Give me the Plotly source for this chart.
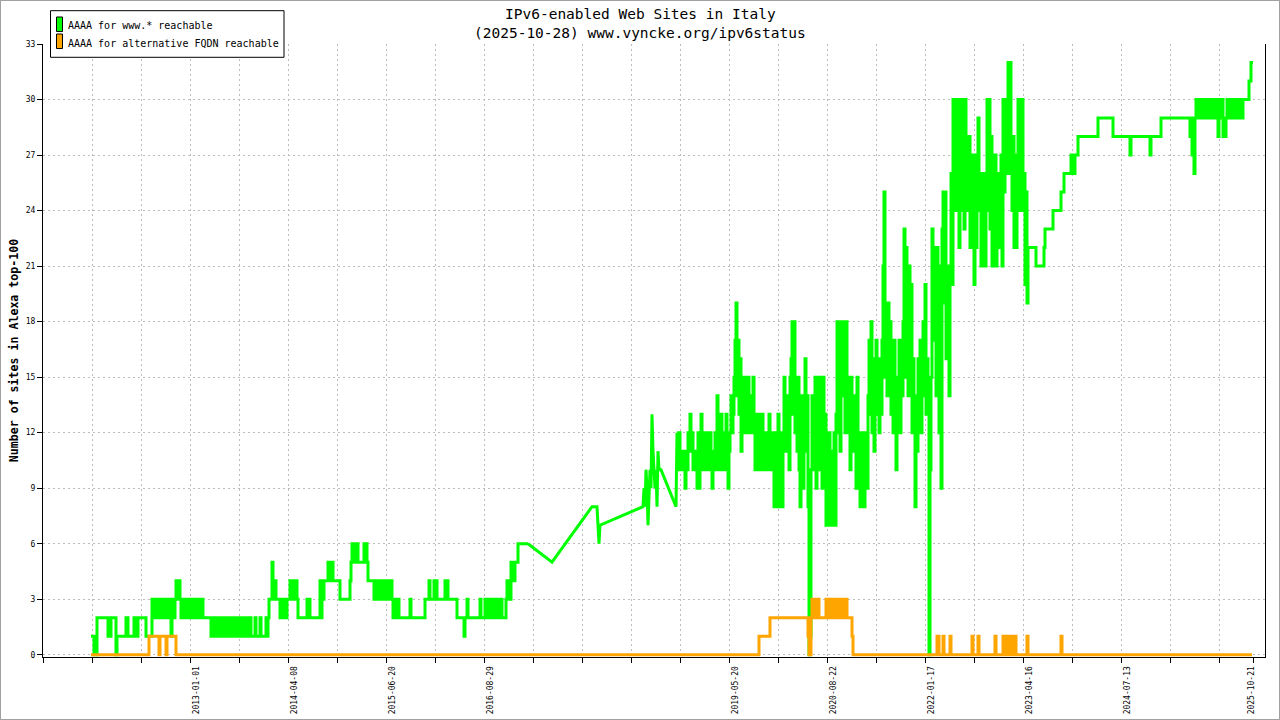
import plotly.graph_objects as go

# ---------------- data (x = sample index along the time axis, y = sites) ----------------
GREEN_2012_2014 = [
    (48, 1), (50, 1), (51, 0), (53, 0), (54, 2), (64, 2), (65, 1), (67, 1), (68, 2), (72, 2), (73, 0), (74, 1),
    (82, 1), (83, 2), (84, 2), (85, 1), (90, 1), (91, 2), (93, 2), (94, 1), (95, 2), (102, 2), (103, 1), (108, 1),
    (109, 3), (110, 2), (111, 3), (112, 2), (113, 3), (114, 2), (115, 3), (116, 2), (117, 3), (118, 3), (119, 2),
    (120, 3), (121, 2), (122, 3), (123, 2), (124, 3), (125, 2), (126, 3), (127, 2), (128, 1), (129, 2), (130, 3),
    (131, 2), (132, 3), (133, 4), (134, 3), (135, 4), (136, 4), (137, 3), (138, 2), (139, 3), (140, 2), (141, 3),
    (142, 2), (143, 3), (144, 2), (145, 3), (146, 2), (147, 3), (148, 2), (149, 3), (150, 2), (151, 3), (152, 2),
    (153, 3), (154, 2), (155, 3), (156, 2), (157, 3), (158, 2), (159, 3), (160, 2), (167, 2),
    (168, 1), (169, 2), (170, 1), (171, 2), (172, 1), (173, 2), (174, 1), (175, 2), (176, 1), (177, 2), (178, 1),
    (179, 2), (180, 1), (181, 2), (182, 1), (183, 2), (184, 1), (185, 2), (186, 1), (187, 2), (188, 1), (189, 2),
    (190, 1), (191, 2), (192, 1), (193, 2), (194, 1), (195, 2), (196, 1), (197, 2), (198, 1), (199, 2), (200, 1),
    (201, 2), (202, 1), (203, 2), (204, 1), (206, 1), (207, 2), (208, 1), (211, 1), (212, 2), (213, 1), (216, 1),
    (217, 2), (218, 1), (222, 1), (223, 2), (224, 1),
]

GREEN_2014_2016 = [
    (225, 2), (226, 3), (228, 3), (229, 5), (230, 4), (231, 3), (232, 4), (233, 3), (236, 3), (237, 2), (238, 3),
    (239, 2), (240, 3), (241, 2), (242, 3), (243, 2), (244, 3), (246, 3), (247, 4), (248, 3), (249, 4), (250, 3),
    (251, 4), (252, 3), (253, 4), (254, 3), (255, 2), (263, 2), (264, 3), (266, 3), (267, 2), (276, 2), (277, 4),
    (278, 2), (279, 4), (280, 3), (281, 4), (284, 4), (285, 5), (286, 4), (287, 5), (288, 4), (289, 5), (290, 4),
    (296, 4), (297, 3), (306, 3), (307, 4), (308, 5), (309, 6), (310, 5), (311, 6), (312, 5), (313, 6), (314, 6),
    (315, 5), (320, 5), (321, 6), (322, 5), (323, 6), (324, 5), (325, 4), (330, 4), (331, 3), (332, 4), (333, 3),
    (334, 4), (335, 3), (336, 4), (337, 3), (338, 4), (339, 3), (340, 4), (341, 3), (342, 4), (343, 3), (344, 4),
    (345, 3), (346, 4), (347, 3), (348, 4), (349, 3), (350, 2), (351, 3), (352, 2), (353, 3), (354, 2), (355, 3),
    (356, 2), (357, 2), (366, 2), (367, 3), (368, 2), (380, 2), (382, 3), (385, 3), (386, 4), (387, 3), (390, 3),
    (391, 4), (392, 3), (393, 4), (394, 3), (401, 3), (402, 4), (403, 3), (404, 4), (405, 3), (412, 3), (414, 2),
    (420, 2), (421, 1), (422, 2), (424, 3), (425, 2), (436, 2), (437, 3), (438, 2), (441, 2), (442, 3), (443, 2),
    (445, 2), (446, 3), (447, 2), (449, 2), (450, 3), (451, 2), (453, 2), (454, 3), (455, 2), (457, 2), (458, 3),
    (459, 2), (462, 2), (463, 3), (464, 4), (465, 3), (466, 4), (467, 3), (468, 5), (469, 4), (470, 5), (471, 4),
    (472, 5), (474, 5), (475, 6), (485, 6),
]

GREEN_2016_2019 = [
    (485, 6), (509, 5), (549, 8), (554, 8), (555, 7), (556, 6), (557, 7), (600, 8), (601, 9), (602, 8), (603, 10),
    (604, 9), (605, 7), (606, 9), (607, 10), (608, 9), (609, 13), (610, 11), (611, 10), (612, 9), (613, 10),
    (614, 8), (615, 11), (616, 10), (618, 10), (633, 8), (634, 12),
]

GREEN_2019_2021 = [
    (634, 12), (635, 10), (636, 12), (637, 11), (638, 10), (639, 11), (640, 10), (641, 11), (642, 9), (643, 11),
    (644, 10), (645, 12), (646, 11), (647, 13), (648, 11), (649, 12), (650, 10), (651, 11), (652, 10), (653, 11),
    (654, 9), (655, 12), (656, 9), (657, 10), (658, 13), (659, 10), (660, 12), (661, 11), (662, 10), (663, 12),
    (664, 11), (665, 10), (666, 11), (667, 12), (668, 10), (669, 9), (670, 11), (671, 10), (672, 12), (673, 10),
    (674, 14), (675, 11), (676, 12), (677, 10), (678, 13), (679, 11), (680, 10), (681, 12), (682, 11), (683, 13),
    (684, 10), (685, 9), (686, 11), (687, 12), (688, 14), (689, 12), (690, 13), (691, 15), (692, 17), (693, 19),
    (694, 14), (695, 17), (696, 13), (697, 16), (698, 11), (699, 15), (700, 13), (701, 15), (702, 12), (703, 14),
    (704, 13), (705, 15), (706, 12), (707, 14), (708, 13), (709, 12), (710, 15), (711, 13), (712, 10), (713, 12),
    (714, 11), (715, 13), (716, 10), (717, 12), (718, 11), (719, 13), (720, 10), (721, 12), (722, 11), (723, 10),
    (724, 12), (725, 11), (726, 13), (727, 10), (728, 12), (729, 11), (730, 10), (731, 8), (732, 12), (733, 8),
    (734, 11), (735, 13), (736, 10), (737, 8), (738, 12), (739, 8), (740, 11), (741, 15), (742, 12), (743, 14),
    (744, 11), (745, 13), (746, 10), (747, 15), (748, 16), (749, 18), (750, 13), (751, 18), (752, 12), (753, 14),
    (754, 11), (755, 15), (756, 10), (757, 8), (758, 12), (759, 14), (760, 9), (761, 12), (762, 16), (763, 11),
    (764, 14), (765, 8), (766, 0), (767, 1), (768, 10), (769, 14), (770, 10), (771, 12), (772, 15), (773, 9),
    (774, 13), (775, 11), (776, 15), (777, 10), (778, 12), (779, 9), (780, 15), (781, 11), (782, 13), (783, 7),
    (784, 10), (785, 8), (786, 12), (787, 7), (788, 11), (789, 9), (790, 7), (791, 12), (792, 7), (793, 13),
    (794, 18), (795, 12), (796, 18), (797, 11), (798, 15), (799, 18), (800, 14), (801, 18), (802, 12), (803, 18),
    (804, 15), (805, 12), (806, 14), (807, 10), (808, 15), (809, 12), (810, 14), (811, 11), (812, 13), (813, 9),
    (814, 15), (815, 10), (816, 12), (817, 8), (818, 11), (819, 9), (820, 12), (821, 8), (822, 10), (823, 12),
    (824, 9), (825, 14), (826, 17), (827, 13), (828, 18), (829, 12), (830, 16), (831, 11), (832, 14), (833, 17),
    (834, 13), (835, 15), (836, 12), (837, 16), (838, 13), (839, 17), (840, 21), (841, 25), (842, 15), (843, 18),
    (844, 14), (845, 19), (846, 15), (847, 18), (848, 13), (849, 16), (850, 12), (851, 17), (852, 14), (853, 10),
    (854, 15), (855, 13), (856, 17), (857, 12), (858, 16), (859, 14), (860, 18), (861, 23), (862, 15), (863, 22),
    (864, 17), (865, 14), (866, 21), (867, 15), (868, 20), (869, 12), (870, 16), (871, 13), (872, 8), (873, 14),
    (874, 11), (875, 16), (876, 13), (877, 17), (878, 12), (879, 15), (880, 18), (881, 14), (882, 20), (883, 13),
    (884, 16), (885, 14), (886, 0), (887, 10),
]

GREEN_2021_2025 = [
    (888, 15), (889, 23), (890, 17), (891, 22), (892, 19), (893, 14), (894, 22), (895, 19), (896, 12), (897, 21),
    (898, 9), (899, 23), (900, 25), (901, 19), (902, 25), (903, 16), (904, 21), (905, 19), (906, 14), (907, 21),
    (908, 26), (909, 20), (910, 30), (911, 25), (912, 28), (913, 24), (914, 30), (915, 25), (916, 22), (917, 27),
    (918, 30), (919, 24), (920, 28), (921, 23), (922, 30), (923, 25), (924, 27), (925, 24), (926, 28), (927, 22),
    (928, 26), (929, 24), (930, 27), (931, 20), (932, 25), (933, 22), (934, 27), (935, 29), (936, 24), (937, 26),
    (938, 21), (939, 25), (940, 23), (941, 26), (942, 21), (943, 24), (944, 30), (945, 26), (946, 30), (947, 23),
    (948, 28), (949, 21), (950, 26), (951, 23), (952, 27), (953, 21), (954, 25), (955, 22), (956, 26), (957, 23),
    (958, 27), (959, 21), (960, 30), (961, 25), (962, 29), (963, 26), (964, 30), (965, 32), (966, 26), (967, 32),
    (968, 27), (969, 24), (970, 28), (971, 22), (972, 27), (973, 22), (974, 26), (975, 30), (976, 24), (977, 28),
    (978, 25), (979, 30), (980, 24), (981, 26), (982, 20), (983, 25), (984, 19), (985, 22), (992, 22), (993, 21),
    (1000, 21), (1001, 22), (1002, 23), (1009, 23), (1010, 24), (1017, 24), (1018, 25), (1020, 25), (1021, 26),
    (1027, 26), (1028, 27), (1029, 26), (1030, 27), (1031, 26), (1032, 27), (1034, 27), (1035, 28), (1054, 28),
    (1055, 29), (1069, 29), (1070, 28), (1086, 28), (1087, 27), (1088, 28), (1106, 28), (1107, 27), (1108, 28),
    (1117, 28), (1118, 29), (1146, 29), (1147, 28), (1149, 27), (1150, 29), (1151, 26), (1152, 29), (1153, 30),
    (1154, 29), (1155, 30), (1156, 29), (1157, 30), (1158, 29), (1159, 30), (1160, 29), (1161, 30), (1162, 29),
    (1163, 30), (1164, 29), (1165, 30), (1166, 29), (1167, 30), (1168, 29), (1169, 30), (1170, 29), (1171, 30),
    (1172, 29), (1173, 30), (1174, 29), (1175, 28), (1176, 29), (1177, 30), (1178, 29), (1179, 30), (1180, 28),
    (1181, 29), (1182, 28), (1183, 29), (1184, 30), (1185, 29), (1186, 30), (1187, 29), (1188, 30), (1189, 29),
    (1190, 30), (1191, 29), (1192, 30), (1193, 29), (1194, 30), (1195, 29), (1196, 30), (1197, 29), (1198, 30),
    (1199, 29), (1200, 30), (1205, 30), (1206, 31), (1207, 31), (1208, 32), (1210, 32),
]

ORANGE_2012_2019 = [
    (48, 0), (105, 0), (106, 1), (115, 1), (116, 0), (117, 1), (122, 1), (123, 0), (124, 1), (130, 1), (133, 0),
    (715, 0),
]

ORANGE_2019_2025 = [
    (716, 1), (726, 1), (727, 2), (764, 2), (765, 1), (766, 0), (768, 2), (769, 3), (770, 2), (773, 3), (774, 2),
    (775, 3), (776, 2), (783, 3), (784, 2), (785, 3), (786, 2), (787, 3), (788, 2), (789, 3), (790, 2), (791, 3),
    (792, 2), (793, 3), (794, 2), (795, 3), (796, 2), (797, 3), (798, 2), (799, 3), (800, 2), (801, 3), (802, 2),
    (803, 3), (804, 2), (808, 2), (809, 1), (810, 0), (893, 0), (894, 1), (895, 1), (896, 0), (899, 0), (900, 1),
    (901, 0), (906, 0), (907, 1), (908, 0), (928, 0), (929, 1), (930, 0), (934, 0), (935, 1), (936, 0), (951, 0),
    (952, 1), (953, 0), (959, 0), (960, 1), (961, 0), (962, 1), (963, 0), (964, 1), (965, 0), (966, 1), (967, 0),
    (968, 1), (969, 0), (970, 1), (971, 0), (972, 1), (973, 0), (983, 0), (984, 1), (985, 0), (1017, 0), (1018, 1),
    (1019, 0), (1209, 0),
]

TICK_STEP = 49
LABEL_POS = [147, 245, 343, 441, 686, 784, 882, 980, 1078]
LABEL_TEXT = ["2013-01-01", "2014-04-08", "2015-06-20", "2016-08-29", "2019-05-20",
              "2020-08-22", "2022-01-17", "2023-04-16", "2024-07-13"]
LAST_LABEL_POS = 1210
LAST_LABEL_TEXT = "2025-10-21"
Y_TICKS = [0, 3, 6, 9, 12, 15, 18, 21, 24, 27, 30, 33]

SERIES_NAMES = ["AAAA for www.* reachable", "AAAA for alternative FQDN reachable"]
TITLE_LINES = ["IPv6-enabled Web Sites in Italy", "(2025-10-28) www.vyncke.org/ipv6status"]
Y_TITLE = "Number of sites in Alexa top-100"

GREEN = "#00ff00"
ORANGE = "#ffa500"
FONT = "DejaVu Sans Mono"
GRID = "#bdbdbd"

# plot-area geometry in pixels
L, R, T, B = 43, 15, 44, 63
PW, PH = 1280 - L - R, 720 - T - B

# ---------------- build ----------------
fig = go.Figure()


def add_line(points, color, shape, name):
    fig.add_trace(go.Scatter(x=[p[0] for p in points], y=[p[1] for p in points], mode="lines",
                             line=dict(color=color, width=3, shape=shape), name=name, showlegend=False))


add_line(GREEN_2012_2014 + GREEN_2014_2016, GREEN, "hv", SERIES_NAMES[0])
add_line(GREEN_2016_2019, GREEN, "linear", SERIES_NAMES[0])
add_line(GREEN_2019_2021 + GREEN_2021_2025, GREEN, "hv", SERIES_NAMES[0])
add_line(ORANGE_2012_2019 + ORANGE_2019_2025, ORANGE, "hv", SERIES_NAMES[1])
fig.add_trace(go.Scatter(x=[LAST_LABEL_POS], y=[None], xaxis="x2", mode="markers",
                         showlegend=False, hoverinfo="skip"))

tick_vals = list(range(0, 1177, TICK_STEP))
tick_text = [LABEL_TEXT[LABEL_POS.index(v)] if v in LABEL_POS else "" for v in tick_vals]

tickfont = dict(family=FONT, size=8, color="black")
xcommon = dict(range=[0, 1222], tickmode="array", tickangle=-90, ticks="outside", ticklen=5,
               tickcolor="black", tickwidth=1, tickfont=tickfont, zeroline=False,
               fixedrange=True, automargin=False)

fig.update_layout(
    width=1280, height=720, autosize=False,
    margin=dict(l=L, r=R, t=T, b=B, autoexpand=False),
    paper_bgcolor="white", plot_bgcolor="white",
    xaxis=dict(**xcommon, tickvals=tick_vals, ticktext=tick_text, showline=True, linecolor="black",
               linewidth=1, showgrid=True, gridcolor=GRID, griddash="2px,3px", gridwidth=1, ticklabelshift=6),
    xaxis2=dict(**xcommon, overlaying="x", anchor="y", side="bottom", tickvals=[LAST_LABEL_POS],
                ticktext=[LAST_LABEL_TEXT], showgrid=False, showline=False, ticklabelshift=-2),
    yaxis=dict(range=[-0.12, 33], tickmode="array", tickvals=Y_TICKS, ticks="outside", ticklen=5,
               tickcolor="black", tickfont=tickfont, showline=True, mirror=True, linecolor="black",
               linewidth=1, showgrid=True, gridcolor=GRID, griddash="2px,3px", gridwidth=1,
               zeroline=False, fixedrange=True, automargin=False,
               title=dict(text="<b>" + Y_TITLE + "</b>", font=dict(family=FONT, size=11.6, color="black"),
                          standoff=4)),
)


def px_x(p):
    return (p - L) / PW


def px_y(p):
    return (720 - B - p) / PH


# title lines
fig.add_annotation(text=TITLE_LINES[0], xref="paper", yref="paper", x=px_x(640), y=px_y(14),
                   xanchor="center", yanchor="middle", showarrow=False,
                   font=dict(family=FONT, size=14.5, color="black"))
fig.add_annotation(text=TITLE_LINES[1], xref="paper", yref="paper", x=px_x(640), y=px_y(33),
                   xanchor="center", yanchor="middle", showarrow=False,
                   font=dict(family=FONT, size=14.5, color="black"))


# manual gnuplot-style key
def rect(x0, x1, y0, y1, fill, color, width):
    return dict(type="rect", xref="paper", yref="paper", x0=px_x(x0), x1=px_x(x1), y0=px_y(y1), y1=px_y(y0),
                fillcolor=fill, line=dict(color=color, width=width))


shapes = [
    rect(50.5, 284, 10.7, 57.3, "white", "black", 1),
    rect(56.5, 62.5, 17, 31.5, GREEN, "black", 1),
    rect(56.5, 62.5, 34, 48.5, ORANGE, "black", 1),
    rect(0, 1280, 0, 720, "rgba(0,0,0,0)", "#a0a0a0", 2),
]
fig.update_layout(shapes=shapes)

fig.add_annotation(text=SERIES_NAMES[0], xref="paper", yref="paper", x=px_x(66), y=px_y(26),
                   xanchor="left", yanchor="middle", showarrow=False, font=dict(family=FONT, size=10, color="black"))
fig.add_annotation(text=SERIES_NAMES[1], xref="paper", yref="paper", x=px_x(66), y=px_y(43.3),
                   xanchor="left", yanchor="middle", showarrow=False, font=dict(family=FONT, size=10, color="black"))

fig.write_html("out.html", config={"displayModeBar": False, "staticPlot": True},
               post_script="document.body.style.margin='0';document.body.style.overflow='hidden';")
